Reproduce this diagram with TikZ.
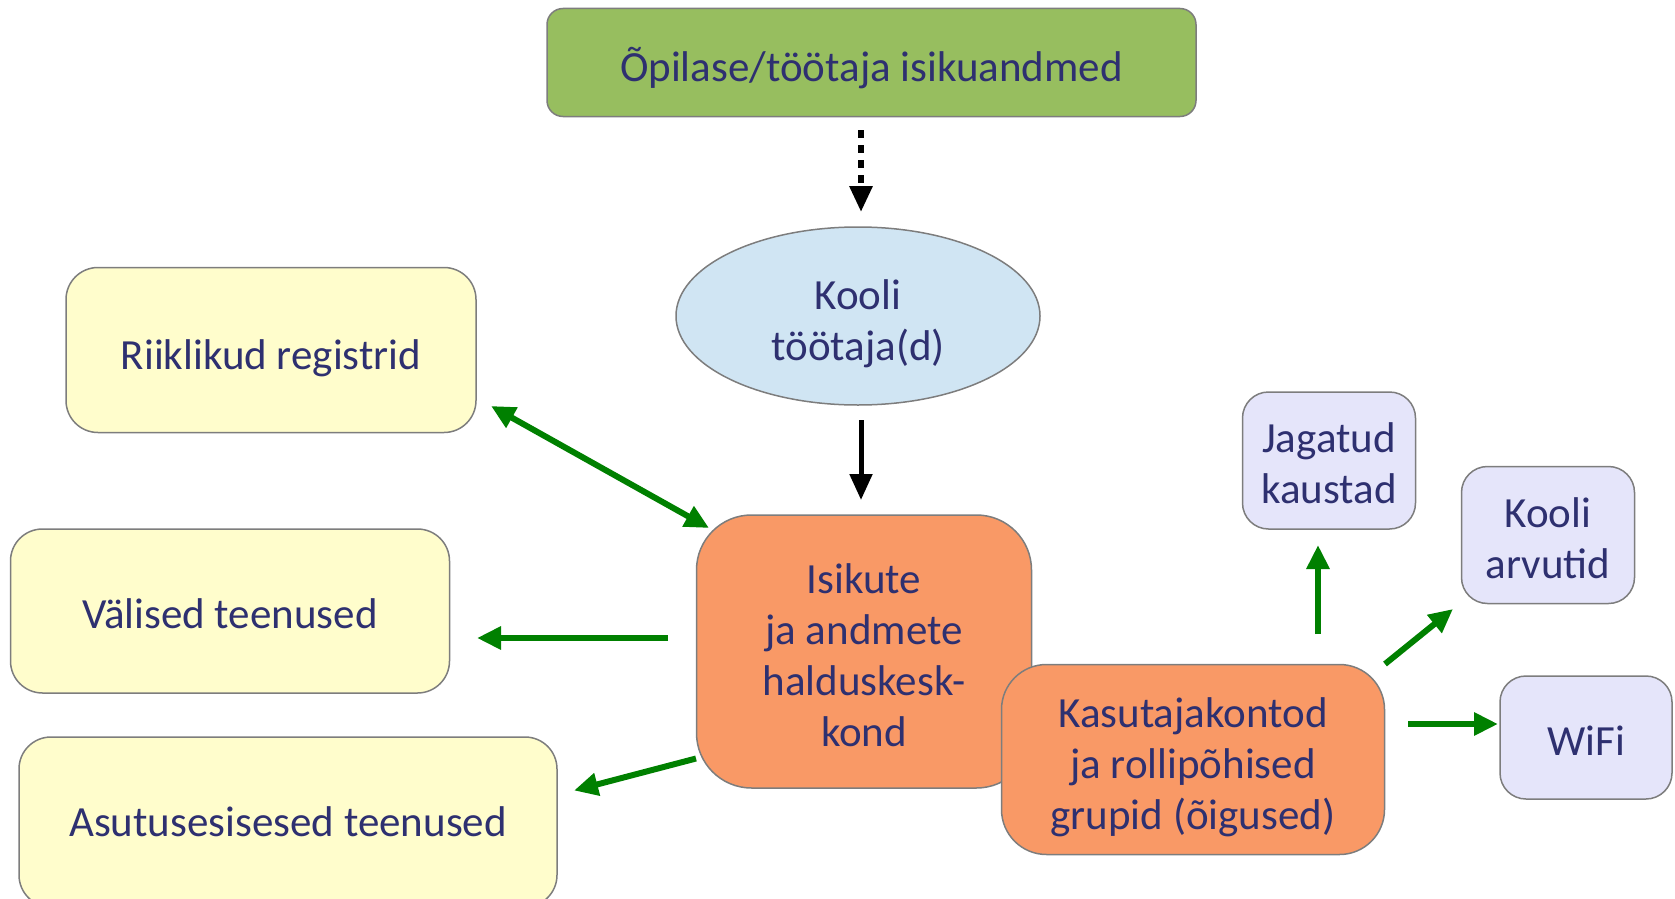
\documentclass[tikz,border=0pt]{standalone}
\usepackage{fontspec}
\setmainfont{Carlito}
\usetikzlibrary{arrows.meta,shapes.geometric}
\definecolor{txt}{RGB}{46,48,112}
\definecolor{bord}{RGB}{125,125,125}
\definecolor{topgreen}{RGB}{151,190,95}
\definecolor{ellblue}{RGB}{208,229,243}
\definecolor{orangebox}{RGB}{249,153,102}
\definecolor{yellowbox}{RGB}{255,253,204}
\definecolor{lavbox}{RGB}{229,229,250}
\definecolor{arrgreen}{RGB}{0,128,0}
\tikzset{
  base/.style={draw=bord, line width=1.5pt, inner sep=0pt},
  rbox/.style={base, rectangle, rounded corners=#1},
  lbl/.style={text=txt, align=center, inner sep=0pt, font=\fontsize{43}{51}\selectfont},
  garrow/.style={draw=arrgreen, line width=6pt, -{Triangle[length=24pt,width=22pt]}},
  barrow/.style={draw=black, line width=5pt, -{Triangle[length=26pt,width=22pt]}},
}
\begin{document}
\begin{tikzpicture}[x=1pt,y=-1pt]
\useasboundingbox (0,0) rectangle (1675,899);
% shapes
\node[rbox=16pt, fill=topgreen, minimum width=649pt, minimum height=108pt] (top) at (871.5,62.5) {};
\node[base, ellipse, fill=ellblue, minimum width=364pt, minimum height=178pt] (kool) at (858,316) {};
\node[rbox=32pt, fill=yellowbox, minimum width=410pt, minimum height=165pt] (riik) at (271,350) {};
\node[rbox=32pt, fill=yellowbox, minimum width=439pt, minimum height=164pt] (val) at (230,611) {};
\node[rbox=32pt, fill=yellowbox, minimum width=538pt, minimum height=170pt] (asu) at (288,822) {};
\node[rbox=55pt, fill=orangebox, minimum width=335pt, minimum height=273pt] (isik) at (864,651.5) {};
\node[rbox=45pt, fill=orangebox, minimum width=383pt, minimum height=190pt] (kasu) at (1193,759.5) {};
\node[rbox=26pt, fill=lavbox, minimum width=173pt, minimum height=137pt] (jag) at (1329,460.5) {};
\node[rbox=26pt, fill=lavbox, minimum width=173pt, minimum height=137pt] (arv) at (1548,535) {};
\node[rbox=26pt, fill=lavbox, minimum width=172pt, minimum height=123pt] (wifi) at (1586,737.5) {};
% texts
\node[lbl] (topt) at ([yshift=-6pt]top.center) {Õpilase/töötaja isikuandmed};
\node[lbl] (koolt) at ([yshift=-7.5pt]kool.center) {Kooli\\töötaja(d)};
\node[lbl] (riikt) at ([yshift=-8.5pt]riik.center) {Riiklikud registrid};
\node[lbl] (valt) at ([yshift=-3pt]val.center) {Välised teenused};
\node[lbl] (asut) at ([yshift=0pt]asu.center) {Asutusesisesed teenused};
\node[lbl] (isikt) at ([yshift=-4pt]isik.center) {Isikute\\ja andmete\\halduskesk-\\kond};
\node[lbl] (kasut) at ([yshift=-7.5pt]kasu.center) {Kasutajakontod\\ja rollipõhised\\grupid (õigused)};
\node[lbl] (jagt) at ([yshift=-3pt]jag.center) {Jagatud\\kaustad};
\node[lbl] (arvt) at ([yshift=-3pt]arv.center) {Kooli\\arvutid};
\node[lbl] (wifit) at ([yshift=-3pt]wifi.center) {WiFi};
% connector end points
\coordinate (d1) at (861,130);
\coordinate (d2) at (861,212);
\coordinate (b1) at (861,420);
\coordinate (b2) at (861,500);
\coordinate (r1) at (491,406);
\coordinate (r2) at (709,528);
\coordinate (v1) at (668,638);
\coordinate (v2) at (477,638);
\coordinate (a1) at (696,758.5);
\coordinate (a2) at (574,790.5);
\coordinate (j1) at (1318,634);
\coordinate (j2) at (1318,545);
\coordinate (k1) at (1385,664);
\coordinate (k2) at (1453,609);
\coordinate (w1) at (1408,724);
\coordinate (w2) at (1498,724);
% connectors
\draw[barrow, line width=6pt, dash pattern=on 8pt off 7pt] (d1) -- (d2);
\draw[barrow] (b1) -- (b2);
\draw[garrow, {Triangle[length=24pt,width=22pt]}-{Triangle[length=24pt,width=22pt]}] (r1) -- (r2);
\draw[garrow] (v1) -- (v2);
\draw[garrow] (a1) -- (a2);
\draw[garrow] (j1) -- (j2);
\draw[garrow] (k1) -- (k2);
\draw[garrow] (w1) -- (w2);
\end{tikzpicture}
\end{document}
